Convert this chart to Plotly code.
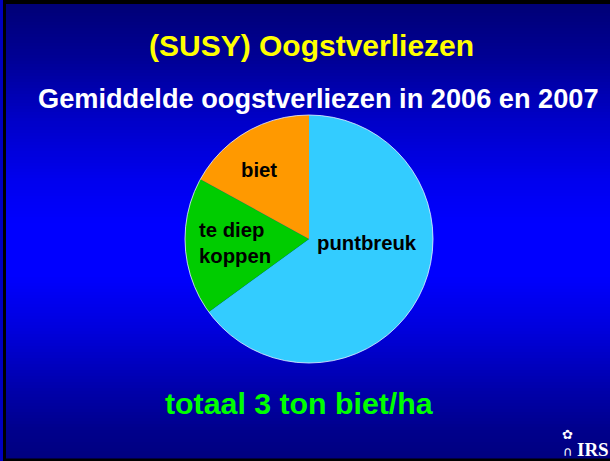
import plotly.graph_objects as go

# ---- data ----
categories = ["puntbreuk", "te diep koppen", "biet"]
label_text = ["puntbreuk", "te diep<br>koppen", "biet"]
values = [65, 18, 17]
colors = ["#33CCFF", "#00CC00", "#FF9900"]

title_text = "(SUSY) Oogstverliezen"
subtitle_text = "Gemiddelde oogstverliezen in 2006 en 2007"
footer_text = "totaal 3 ton biet/ha"

W, H = 610, 461

def px(x):
    return x / W

def py(y):
    return 1 - y / H

# pie geometry (pixels)
cx, cy, r = 309, 239, 124

fig = go.Figure()
fig.add_trace(go.Pie(
    labels=categories,
    values=values,
    sort=False,
    direction="clockwise",
    rotation=0,
    marker=dict(colors=colors, line=dict(width=0)),
    textinfo="none",
    hoverinfo="label+percent",
    showlegend=False,
    domain=dict(x=[px(cx - r), px(cx + r)], y=[py(cy + r), py(cy - r)]),
))

shapes = []
# outer frame (left, top, bottom)
shapes.append(dict(type="rect", xref="paper", yref="paper", x0=px(3), x1=1.0, y0=0, y1=1.0,
                   fillcolor="black", line=dict(width=0), layer="below"))
# vertical gradient background
stops = [(4, 118), (60, 150), (120, 200), (180, 238), (225, 255), (275, 255),
         (330, 220), (390, 170), (430, 140), (458, 128)]

def blue_at(y):
    for (y0, b0), (y1, b1) in zip(stops[:-1], stops[1:]):
        if y0 <= y <= y1:
            t = (y - y0) / (y1 - y0)
            return b0 + t * (b1 - b0)
    return stops[-1][1]

step = 3
y = 4
while y < 458:
    y2 = min(y + step, 458)
    b = int(round(blue_at((y + y2) / 2)))
    col = f"rgb(0,0,{b})"
    shapes.append(dict(type="rect", xref="paper", yref="paper", x0=px(6), x1=px(W + 2),
                       y0=py(y2 + 0.5), y1=py(y), fillcolor=col,
                       line=dict(width=0), layer="below"))
    y = y2

# thin light outline around the pie
shapes.append(dict(type="circle", xref="paper", yref="paper",
                   x0=px(cx - r), x1=px(cx + r), y0=py(cy + r), y1=py(cy - r),
                   line=dict(color="rgba(230,240,255,0.8)", width=1), layer="above"))

FONT = "Liberation Sans, Arial"

def ann(text, x, y, size, color, family=FONT, xanchor="center", align="center"):
    return dict(text=text, x=px(x), y=py(y), xref="paper", yref="paper",
                xanchor=xanchor, yanchor="middle", align=align, showarrow=False,
                font=dict(family=family, size=size, color=color))

annotations = [
    ann(f"<b>{title_text}</b>", 311, 45, 30, "#FFFF00"),
    ann(f"<b>{subtitle_text}</b>", 318, 98, 27.2, "white"),
    ann(f"<b>{footer_text}</b>", 299, 403, 30.3, "#00FF00"),
    ann("<b>IRS</b>", 611, 449, 19, "white", family="Liberation Serif, Times New Roman", xanchor="right"),
    ann("✿<br>∩", 567, 443, 13, "white", family="DejaVu Sans"),
]

label_pos = [(367, 243), (235, 243), (259, 170)]
for t, (lx, ly) in zip(label_text, label_pos):
    annotations.append(ann(f"<b>{t}</b>", lx, ly, 20.3, "black", align="left"))

fig.update_layout(
    width=W, height=H,
    margin=dict(l=0, r=0, t=0, b=0),
    paper_bgcolor="#0000C0",
    plot_bgcolor="white",
    shapes=shapes,
    annotations=annotations,
)

fig.write_html("out.html", config={"displayModeBar": False},
               post_script="document.body.style.margin='0';document.body.style.overflow='hidden';")
